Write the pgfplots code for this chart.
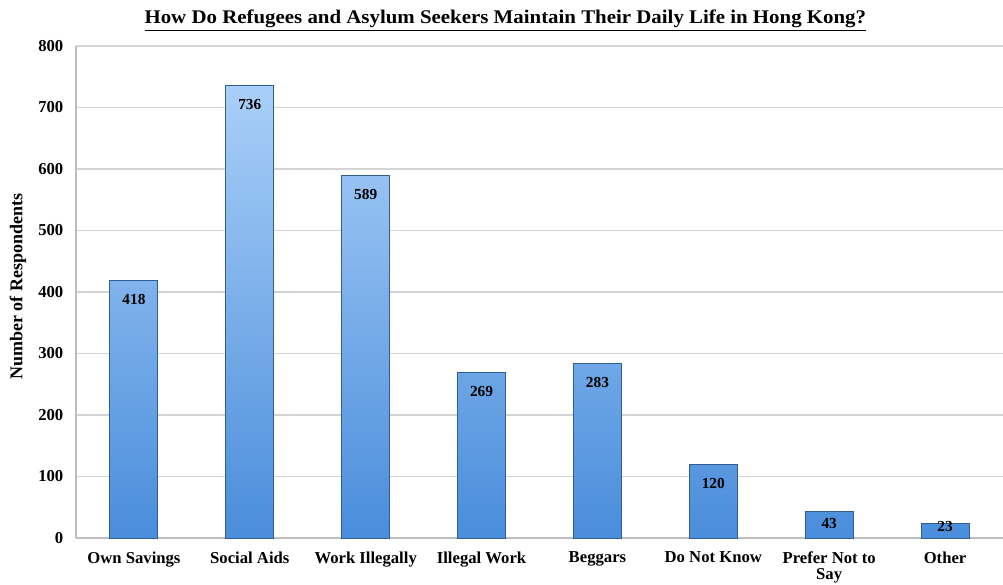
\documentclass[border=0pt]{standalone}
\usepackage{fontspec}
\setmainfont{Liberation Serif}
\usepackage{pgfplots}
\pgfplotsset{compat=1.18}

\definecolor{gridgray}{HTML}{D4D4D4}
\definecolor{axisgray}{HTML}{BDBDBD}
\definecolor{bartop}{HTML}{A9CFF8}
\definecolor{barbottom}{HTML}{4A8DDB}
\definecolor{baredge}{HTML}{2F5E96}

\begin{document}
\begin{tikzpicture}
\path[use as bounding box] (-57pt,-35.25pt) rectangle (695.25pt,403.5pt);
\begin{axis}[
  at={(0,0)}, anchor=south west,
  scale only axis,
  width=695.25pt, height=369pt,
  xmin=-0.5, xmax=7.5,
  ymin=0, ymax=800,
  ytick={0,100,...,800},
  xtick=data,
  xticklabels={Own Savings, Social Aids, Work Illegally, Illegal Work, Beggars, Do Not Know, {Prefer Not to\\[-2pt]Say}, Other},
  xticklabel style={align=center, font=\fontsize{12.5}{14}\selectfont\bfseries, yshift=-7pt},
  yticklabel style={font=\fontsize{12.5}{14}\selectfont\bfseries, xshift=-6pt},
  /pgf/number format/assume math mode=true,
  major tick length=0pt,
  ymajorgrids,
  grid style={gridgray, line width=1.1pt},
  axis x line*=bottom,
  axis y line*=left,
  axis line style={axisgray, line width=1.1pt},
  ylabel={Number of Respondents},
  every axis y label/.style={at={(axis description cs:-0.0626,0.511)}, anchor=center, rotate=90,
    font=\fontsize{13.5}{14}\selectfont\bfseries},
  ybar, bar width=0.414,
  visualization depends on={rawy \as \rawval},
  nodes near coords,
  nodes near coords style={font=\fontsize{11.5}{12}\selectfont\bfseries, black, anchor=north, inner sep=0pt,
    yshift={(\rawval<30 ? 2.5 : (\rawval<50 ? -5 : -10))*1pt}},
  clip=false,
]
\addplot[draw=baredge, line width=0.7pt, top color=bartop, bottom color=barbottom]
  coordinates {(0,418) (1,736) (2,589) (3,269) (4,283) (5,120) (6,43) (7,23)};
\end{axis}
\node[font=\fontsize{14.5}{16}\selectfont\bfseries, xscale=1.08, anchor=base] at (322pt,385.5pt)
  {\underline{How Do Refugees and Asylum Seekers Maintain Their Daily Life in Hong Kong?}};
\end{tikzpicture}
\end{document}
